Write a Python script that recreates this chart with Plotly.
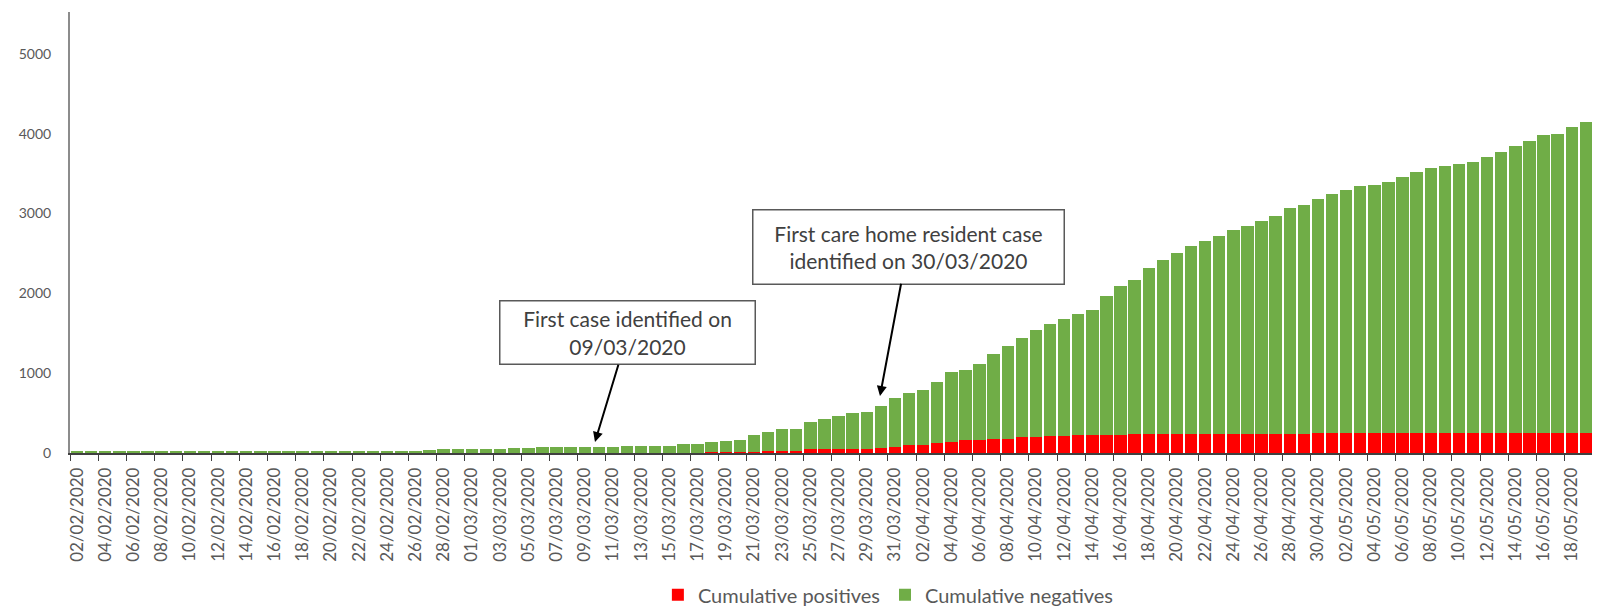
import pandas as pd
import plotly.graph_objects as go

# Categories: one bar per day, 02/02/2020 to 20/05/2020
dates = pd.date_range("2020-02-02", "2020-05-20", freq="D")
date_labels = [d.strftime("%d/%m/%Y") for d in dates]

cumulative_positives = (
    [0] * 36
    + [1, 1, 1, 2, 2, 3, 4, 5, 6, 8, 10, 12, 15]
    + [22, 22, 23, 44, 44, 45, 46, 52, 65, 77, 102, 103, 123, 140, 157, 158,
       177, 178, 198, 199, 219, 219, 220, 220]
    + [230, 231, 232, 232, 233, 233, 234, 234, 235, 235, 236, 236, 237, 237, 238]
    + [248, 248, 249, 249, 249, 250, 250, 250, 250, 251, 251, 251, 251, 252,
       252, 252, 252, 253, 253, 253, 253]
)

cumulative_negatives = (
    [15] * 25
    + [42, 44, 55, 55, 56, 56, 57, 57]
    + [70, 70, 71, 70, 71, 71]
    + [90, 90, 90, 89, 112, 112, 130, 138, 156, 206]
    + [245, 284, 284, 344, 378, 418, 451, 466, 528, 616, 650, 690,
       771, 871, 887, 953, 1067, 1167, 1247, 1346, 1401, 1460, 1518, 1576]
    + [1741, 1858, 1938, 2090, 2187, 2269, 2364, 2422, 2480, 2559, 2613, 2671,
       2733, 2837, 2866]
    + [2935, 2998, 3051, 3093, 3105, 3150, 3209, 3271, 3326, 3346, 3366, 3400,
       3462, 3524, 3599, 3658, 3737, 3748, 3832, 3895, 3916]
)

assert len(cumulative_positives) == len(date_labels) == len(cumulative_negatives)

x_idx = list(range(len(date_labels)))
label_idx = x_idx[::2]
label_text = [date_labels[i] for i in label_idx]

FONT = "Lato"
TXT = "#595959"

fig = go.Figure()
fig.add_trace(go.Bar(x=x_idx, y=cumulative_positives, name="Cumulative positives",
                     marker=dict(color="#FF0000", line=dict(width=0))))
fig.add_trace(go.Bar(x=x_idx, y=cumulative_negatives, name="Cumulative negatives",
                     marker=dict(color="#70AD47", line=dict(width=0))))

# page body has an 8px margin, so the figure is 8px smaller in each direction
fig.update_layout(
    width=1592, height=605,
    barmode="stack", bargap=0.12,
    plot_bgcolor="white", paper_bgcolor="white",
    margin=dict(l=62, r=0, t=4, b=160),
    font=dict(family=FONT, color=TXT),
    showlegend=True,
    legend=dict(orientation="h", xref="container", yref="container",
                x=0.553, xanchor="center", y=0.03, yanchor="middle",
                font=dict(size=20, color=TXT, family=FONT),
                traceorder="normal", itemclick=False),
    xaxis=dict(
        range=[-0.5, 108.0],
        tickmode="array",
        tickvals=[i - 0.5 for i in label_idx],
        ticktext=label_text,
        ticklabelshift=7,
        tickangle=-90,
        ticks="outside", ticklen=6, tickwidth=1, tickcolor="#404040",
        showline=True, linecolor="#404040", linewidth=1.5,
        showgrid=False, zeroline=False,
        tickfont=dict(size=17, color=TXT, family=FONT),
    ),
    yaxis=dict(
        range=[0, 5526],
        tickmode="linear", tick0=0, dtick=1000,
        ticks="", ticklabelstandoff=14,
        showline=True, linecolor="#8c8c8c", linewidth=2,
        showgrid=False, zeroline=False,
        tickfont=dict(size=14, color=TXT, family=FONT),
    ),
)

box_font = dict(size=21, color="#404040", family=FONT)
fig.add_annotation(
    x=36.73, y=138, xref="x", yref="y",
    ax=39.07, ay=1504, axref="x", ayref="y",
    text="First case identified on<br>09/03/2020",
    showarrow=True, arrowhead=2, arrowsize=1, arrowwidth=2, arrowcolor="black",
    font=box_font, align="center",
    bgcolor="white", bordercolor="#595959", borderwidth=1.5, borderpad=4,
    width=246, height=54,
)
fig.add_annotation(
    x=56.94, y=714, xref="x", yref="y",
    ax=58.93, ay=2587, axref="x", ayref="y",
    text="First care home resident case<br>identified on 30/03/2020",
    showarrow=True, arrowhead=2, arrowsize=1, arrowwidth=2, arrowcolor="black",
    font=box_font, align="center",
    bgcolor="white", bordercolor="#595959", borderwidth=1.5, borderpad=4,
    width=302, height=65,
)

fig.write_html("out.html")
